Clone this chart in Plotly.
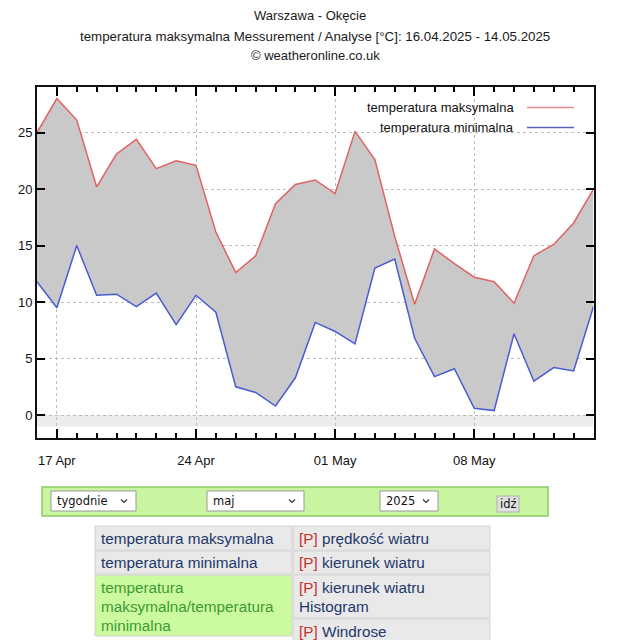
import plotly.graph_objects as go

W, H = 619, 640

dates = ["2025-04-16", "2025-04-17", "2025-04-18", "2025-04-19", "2025-04-20",
         "2025-04-21", "2025-04-22", "2025-04-23", "2025-04-24", "2025-04-25",
         "2025-04-26", "2025-04-27", "2025-04-28", "2025-04-29", "2025-04-30",
         "2025-05-01", "2025-05-02", "2025-05-03", "2025-05-04", "2025-05-05",
         "2025-05-06", "2025-05-07", "2025-05-08", "2025-05-09", "2025-05-10",
         "2025-05-11", "2025-05-12", "2025-05-13", "2025-05-14"]

t_max = [25.0, 28.0, 26.1, 20.2, 23.1, 24.4, 21.8, 22.5, 22.1, 16.2,
         12.6, 14.1, 18.7, 20.4, 20.8, 19.6, 25.1, 22.6, 15.8, 9.8,
         14.7, 13.4, 12.2, 11.8, 9.9, 14.1, 15.1, 17.0, 20.0]

t_min = [11.8, 9.5, 15.0, 10.6, 10.7, 9.6, 10.8, 8.0, 10.6, 9.1,
         2.5, 2.0, 0.8, 3.3, 8.2, 7.4, 6.3, 13.0, 13.8, 6.8,
         3.4, 4.1, 0.6, 0.4, 7.2, 3.0, 4.2, 3.9, 9.6]

y_ticks = [0, 5, 10, 15, 20, 25]

title_lines = ["Warszawa - Okęcie",
               "temperatura maksymalna Messurement / Analyse [°C]: 16.04.2025 - 14.05.2025",
               "© weatheronline.co.uk"]
legend_names = ["temperatura maksymalna", "temperatura minimalna"]
select_labels = ["tygodnie", "maj", "2025"]
button_label = "idź"
menu_left = ["temperatura maksymalna", "temperatura minimalna",
             ["temperatura", "maksymalna/temperatura", "minimalna"]]
menu_right = ["prędkość wiatru", "kierunek wiatru", ["kierunek wiatru", "Histogram"], "Windrose"]

RED = "#e06262"
BLUE = "#4a5bd2"
FONT = "Arial, Liberation Sans, sans-serif"
NAVY = "#22386a"


def X(px):
    return px / W


def Y(py):
    return 1 - py / H


fig = go.Figure()
fig.add_trace(go.Scatter(x=dates, y=t_min, mode="lines", name=legend_names[1],
                         line=dict(color=BLUE, width=1.5), hoverinfo="skip"))
fig.add_trace(go.Scatter(x=dates, y=t_max, mode="lines", name=legend_names[0],
                         line=dict(color=RED, width=1.5), fill="tonexty",
                         fillcolor="#c9c9c9", hoverinfo="skip"))

shapes = []
annotations = []

# light band between -1 and 0
shapes.append(dict(type="rect", xref="x", yref="y", x0=dates[0], x1=dates[-1], y0=-1, y1=0,
                   fillcolor="#ececec", line=dict(width=0), layer="below"))

# titles
for txt, px, py, fs in zip(title_lines, [310, 315, 315], [15, 36, 55], [13, 13.3, 13]):
    annotations.append(dict(xref="paper", yref="paper", x=X(px), y=Y(py), text=txt,
                            showarrow=False, xanchor="center", yanchor="middle",
                            font=dict(family=FONT, size=fs, color="#1a1a1a")))

# legend (text on left, line sample on right)
for name, col, py in [(legend_names[0], "#e88c8c", 107.5), (legend_names[1], "#5567b8", 127.5)]:
    annotations.append(dict(xref="paper", yref="paper", x=X(516), y=Y(py), text=name,
                            showarrow=False, xanchor="right", yanchor="middle",
                            font=dict(family=FONT, size=13, color="#111111")))
    shapes.append(dict(type="line", xref="paper", yref="paper", x0=X(527), x1=X(574),
                       y0=Y(py), y1=Y(py), line=dict(color=col, width=1.5)))

# form bar
shapes.append(dict(type="rect", xref="paper", yref="paper", x0=X(42), x1=X(548),
                   y0=Y(516), y1=Y(487), fillcolor="#c9f5a0", line=dict(color="#8cc86a", width=1.5)))
sel_boxes = [(51, 136), (207, 304), (380, 438)]
for (x0, x1), lab in zip(sel_boxes, select_labels):
    shapes.append(dict(type="rect", xref="paper", yref="paper", x0=X(x0), x1=X(x1),
                       y0=Y(511), y1=Y(491), fillcolor="#ffffff", line=dict(color="#9a9a9a", width=1)))
    annotations.append(dict(xref="paper", yref="paper", x=X(x0 + 4), y=Y(501), text=lab,
                            showarrow=False, xanchor="left", yanchor="middle",
                            font=dict(family="DejaVu Sans, sans-serif", size=11.5, color="#111111")))
    cx = x1 - 12
    shapes.append(dict(type="path", xref="paper", yref="paper",
                       path=f"M {X(cx - 3)} {Y(499.5)} L {X(cx)} {Y(502.5)} L {X(cx + 3)} {Y(499.5)}",
                       line=dict(color="#333333", width=1.2)))
shapes.append(dict(type="rect", xref="paper", yref="paper", x0=X(497), x1=X(519),
                   y0=Y(512), y1=Y(496), fillcolor="#e1e1e1", line=dict(color="#adadad", width=1)))
annotations.append(dict(xref="paper", yref="paper", x=X(508), y=Y(503.5), text=button_label,
                        showarrow=False, xanchor="center", yanchor="middle",
                        font=dict(family="DejaVu Sans, sans-serif", size=11.5, color="#111111")))

# menu table
left_rows = [(526, 550), (551, 574), (575, 636)]
right_rows = [(526, 550), (551, 574), (575, 618), (619, 642)]
for i, (y0, y1) in enumerate(left_rows):
    green = i == 2
    shapes.append(dict(type="rect", xref="paper", yref="paper", x0=X(95), x1=X(292),
                       y0=Y(y1), y1=Y(y0), fillcolor="#ccfa9e" if green else "#e9e9e9",
                       line=dict(color="#d2d2d2", width=1)))
for (y0, y1) in right_rows:
    shapes.append(dict(type="rect", xref="paper", yref="paper", x0=X(293), x1=X(490),
                       y0=Y(y1), y1=Y(y0), fillcolor="#e9e9e9",
                       line=dict(color="#d2d2d2", width=1)))


def cell_text(txt, px, py, color):
    annotations.append(dict(xref="paper", yref="paper", x=X(px), y=Y(py), text=txt,
                            showarrow=False, xanchor="left", yanchor="middle",
                            font=dict(family=FONT, size=15.3, color=color)))


cell_text(menu_left[0], 99, 538, NAVY)
cell_text(menu_left[1], 99, 562, NAVY)
for line, py in zip(menu_left[2], [587, 606, 625]):
    cell_text(line, 99, py, "#3d9a35")

P = "<span style='color:#c8322e'>[P]</span> "
cell_text(P + menu_right[0], 297, 538, NAVY)
cell_text(P + menu_right[1], 297, 562, NAVY)
cell_text(P + menu_right[2][0], 297, 587, NAVY)
cell_text(menu_right[2][1], 297, 606, NAVY)
cell_text(P + menu_right[3], 297, 631, NAVY)

fig.update_layout(
    width=W, height=H, margin=dict(l=0, r=0, t=0, b=0),
    paper_bgcolor="white", plot_bgcolor="white", showlegend=False,
    shapes=shapes, annotations=annotations,
    font=dict(family=FONT, size=13, color="#111111"),
)
fig.update_xaxes(
    domain=[X(37), X(593.5)], range=[dates[0], dates[-1]], type="date",
    tick0="2025-04-17", dtick=7 * 86400000, tickformat="%d %b",
    ticks="inside", ticklen=9, tickwidth=2, tickcolor="#000000",
    showline=True, linecolor="#111111", linewidth=2, mirror="ticks",
    showgrid=True, gridcolor="#bdbdbd", griddash="dot", gridwidth=1,
    zeroline=False, ticklabelstandoff=10, layer="above traces",
    tickfont=dict(family=FONT, size=13, color="#111111"),
    minor=dict(dtick=86400000, tick0="2025-04-16", ticks="inside", ticklen=5,
               tickwidth=1.8, tickcolor="#000000", showgrid=False),
)
fig.update_yaxes(
    domain=[Y(437.7), Y(87.3)], range=[-2, 29], tickvals=y_ticks,
    ticks="inside", ticklen=8, tickwidth=2, tickcolor="#000000",
    showline=True, linecolor="#111111", linewidth=2, mirror="ticks",
    showgrid=True, gridcolor="#bdbdbd", griddash="dot", gridwidth=1,
    zeroline=False, layer="above traces",
    tickfont=dict(family=FONT, size=13, color="#111111"),
)

fig.write_html("out.html", config={"displayModeBar": False},
               post_script="document.body.style.margin='0';")
